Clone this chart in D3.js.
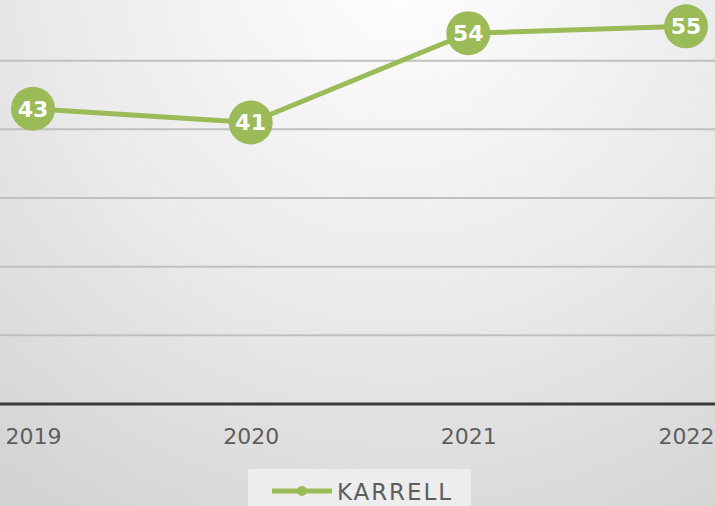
<!DOCTYPE html>
<html>
<head>
<meta charset="utf-8">
<script src="https://cdn.jsdelivr.net/npm/d3@7"></script>
<style>
  html, body { margin: 0; padding: 0; overflow: hidden; }
  svg { display: block; }
</style>
</head>
<body>
<svg id="chart" width="715" height="506"></svg>
<script>
// Chart data
const years = ["2019", "2020", "2021", "2022"];
const karrell = [43, 41, 54, 55];
const gridValues = [10, 20, 30, 40, 50];
const seriesName = "KARRELL";

const W = 715, H = 506;
const svg = d3.select("#chart");

// Soft radial background, brightest near the top
const defs = svg.append("defs");
const bg = defs.append("radialGradient")
  .attr("id", "bg").attr("gradientUnits", "userSpaceOnUse")
  .attr("cx", 400).attr("cy", -40).attr("r", 640);
bg.append("stop").attr("offset", "0%").attr("stop-color", "#ffffff");
bg.append("stop").attr("offset", "55%").attr("stop-color", "#eaeaea");
bg.append("stop").attr("offset", "100%").attr("stop-color", "#d4d4d4");
svg.append("rect").attr("width", W).attr("height", H).attr("fill", "url(#bg)");

// Scales
const x = d3.scalePoint().domain(years).range([33, 686]);
const y = d3.scaleLinear().domain([0, 60]).range([404, -8]);

// Horizontal gridlines
svg.append("g").selectAll("line").data(gridValues).join("line")
  .attr("x1", 0).attr("x2", W)
  .attr("y1", d => y(d)).attr("y2", d => y(d))
  .attr("stroke", "#c0c0c0").attr("stroke-width", 2);

// Category axis
const xAxis = svg.append("g").attr("transform", `translate(0,${y(0)})`)
  .call(d3.axisBottom(x).tickSize(0).tickPadding(24));
xAxis.select(".domain").remove();
svg.append("line").attr("x1", 0).attr("x2", W)
  .attr("y1", y(0)).attr("y2", y(0))
  .attr("stroke", "#3a3a3a").attr("stroke-width", 3);
xAxis.selectAll("text")
  .attr("font-family", "'DejaVu Sans', sans-serif")
  .attr("font-size", 22).attr("fill", "#5e5e5e");

// Series line
const green = "#9bbb59";
svg.append("path").datum(karrell)
  .attr("fill", "none").attr("stroke", green).attr("stroke-width", 5)
  .attr("d", d3.line().x((d, i) => x(years[i])).y(d => y(d)));

// Markers with value labels
const pts = svg.append("g").selectAll("g").data(karrell).join("g")
  .attr("transform", (d, i) => `translate(${x(years[i])},${y(d)})`);
pts.append("circle").attr("r", 22).attr("fill", green);
pts.append("text").text(d => d)
  .attr("text-anchor", "middle").attr("dy", "0.36em")
  .attr("font-family", "'DejaVu Sans', sans-serif").attr("font-weight", 700)
  .attr("font-size", 22).attr("fill", "#ffffff");

// Legend
const lg = svg.append("g");
lg.append("rect").attr("x", 248).attr("y", 469).attr("width", 223).attr("height", 40)
  .attr("fill", "#ededed");
lg.append("line").attr("x1", 272).attr("x2", 332).attr("y1", 491).attr("y2", 491)
  .attr("stroke", green).attr("stroke-width", 5);
lg.append("circle").attr("cx", 302).attr("cy", 491).attr("r", 5).attr("fill", green);
lg.append("text").text(seriesName).attr("x", 337).attr("y", 500)
  .attr("font-family", "'DejaVu Sans', sans-serif").attr("font-size", 23)
  .attr("textLength", 114).attr("lengthAdjust", "spacing")
  .attr("fill", "#5e5e5e");
</script>
</body>
</html>
